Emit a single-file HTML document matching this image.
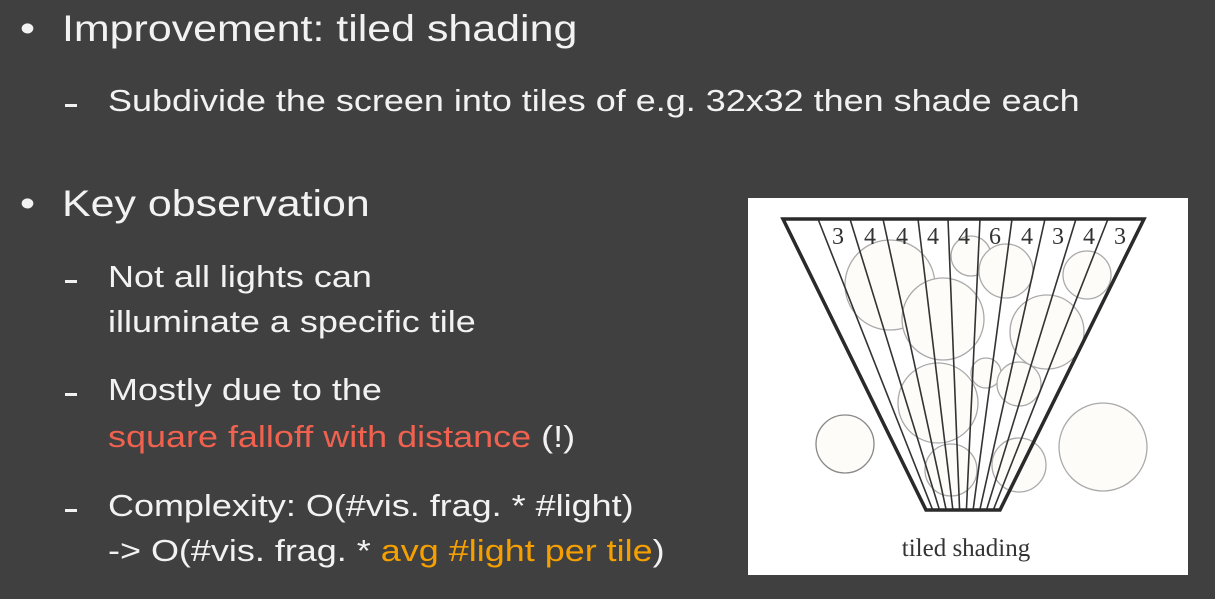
<!DOCTYPE html><html><head><style>
body{margin:0;width:1215px;height:599px;background:#404040;overflow:hidden;font-family:"Liberation Sans",sans-serif;color:#f2f2f2;position:relative}
.t{position:absolute;white-space:nowrap;line-height:1;transform-origin:0 0;transform:scaleX(1.16)}
.b{font-size:37px}.s{font-size:31px}
.d{position:absolute;width:12px;height:3px;background:#f2f2f2}
.r{color:#f0624f}.o{color:#f5a000}
</style></head><body>
<div class="t b" style="left:20px;top:10px">•</div><div class="t b" style="left:62px;top:10px">Improvement: tiled shading</div>
<div class="d" style="left:65px;top:104px"></div><div class="t s" style="left:108px;top:85px">Subdivide the screen into tiles of e.g. 32x32 then shade each</div>
<div class="t b" style="left:20px;top:185px">•</div><div class="t b" style="left:62px;top:185px">Key observation</div>
<div class="d" style="left:65px;top:280px"></div><div class="t s" style="left:108px;top:261px">Not all lights can</div>
<div class="t s" style="left:108px;top:306px">illuminate a specific tile</div>
<div class="d" style="left:65px;top:393px"></div><div class="t s" style="left:108px;top:374px">Mostly due to the</div>
<div class="t s" style="left:108px;top:421px"><span class="r">square falloff with distance</span> (!)</div>
<div class="d" style="left:65px;top:509px"></div><div class="t s" style="left:108px;top:490px">Complexity: O(#vis. frag. * #light)</div>
<div class="t s" style="left:108px;top:535px">-&gt; O(#vis. frag. * <span class="o">avg #light per tile</span>)</div>
<svg style="position:absolute;left:0;top:0" width="1215" height="599">
<rect x="748" y="198" width="440" height="377" fill="#fff"/>
<g fill="#fdfcf9" stroke="#aaa" stroke-width="1.3">
<circle cx="890" cy="285" r="45"/><circle cx="943" cy="319" r="41"/><circle cx="971" cy="256" r="20"/><circle cx="1006" cy="271" r="27"/><circle cx="1087" cy="275" r="24"/><circle cx="1047" cy="332" r="37"/><circle cx="986" cy="373" r="15"/><circle cx="1019" cy="384" r="22"/><circle cx="938" cy="403" r="40"/><circle cx="845" cy="444" r="29" stroke="#888"/><circle cx="951" cy="470" r="26"/><circle cx="1019" cy="465" r="27"/><circle cx="1103" cy="447" r="44"/>
</g>
<g stroke="#333" stroke-width="1.6">
<line x1="818" y1="219" x2="932.7" y2="510"/><line x1="850" y1="219" x2="939.5" y2="510"/><line x1="883" y1="219" x2="946.2" y2="510"/><line x1="918" y1="219" x2="952.9" y2="510"/><line x1="948" y1="219" x2="959.6" y2="510"/><line x1="980" y1="219" x2="966.4" y2="510"/><line x1="1012" y1="219" x2="973.1" y2="510"/><line x1="1045" y1="219" x2="979.8" y2="510"/><line x1="1076" y1="219" x2="986.5" y2="510"/><line x1="1108" y1="219" x2="993.3" y2="510"/>
</g>
<polygon points="783,219 1144,219 1000,510 926,510" fill="none" stroke="#2a2a2a" stroke-width="3.5"/>
<g font-family="Liberation Serif,serif" font-size="24" fill="#333" text-anchor="middle">
<text x="838" y="244">3</text><text x="870" y="244">4</text><text x="902" y="244">4</text><text x="933" y="244">4</text><text x="964" y="244">4</text><text x="995" y="244">6</text><text x="1027" y="244">4</text><text x="1058" y="244">3</text><text x="1089" y="244">4</text><text x="1120" y="244">3</text>
</g>
<text x="966" y="556" font-family="Liberation Serif,serif" font-size="25" fill="#333" text-anchor="middle">tiled shading</text>
</svg>
</body></html>
